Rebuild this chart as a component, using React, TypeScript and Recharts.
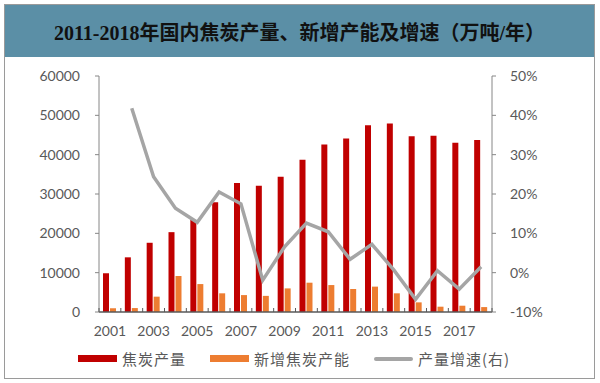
import { ComposedChart, Bar, Line, XAxis, YAxis } from 'recharts';

const years = ['2001', '2002', '2003', '2004', '2005', '2006', '2007', '2008', '2009', '2010', '2011', '2012', '2013', '2014', '2015', '2016', '2017', '2018'];
const cokeOutput = [9850, 13900, 17600, 20300, 23400, 27900, 32800, 32100, 34400, 38700, 42600, 44100, 47500, 47900, 44700, 44800, 43000, 43700];
const newCapacity = [950, 1000, 3900, 9150, 7100, 4750, 4300, 4100, 6000, 7450, 6850, 5850, 6450, 4750, 2450, 1350, 1600, 1250];
const growthRate = [null, 41.8, 24.4, 16.4, 12.8, 20.5, 17.5, -1.9, 6.6, 12.6, 10.4, 3.4, 7.2, 0.7, -6.8, 0.5, -4.2, 1.5];
const leftTicks = [0, 10000, 20000, 30000, 40000, 50000, 60000];
const rightTicks = [-10, 0, 10, 20, 30, 40, 50];

const data = years.map((year, i) => ({
  year,
  output: cokeOutput[i],
  capacity: newCapacity[i],
  rate: growthRate[i],
}));

const legendItems = [
  { label: '焦炭产量', color: '#C00000', thick: 7 },
  { label: '新增焦炭产能', color: '#ED7D31', thick: 7 },
  { label: '产量增速(右)', color: '#A5A5A5', thick: 4 },
];

const tickStyle = { fill: '#595959', fontSize: 14, fontFamily: 'Lato, sans-serif' };

// category width of the plot (393px over 18 years), used for the between-category tick marks
const halfBand = 393 / years.length / 2;

const YearTick = (props: any) => {
  const { x, y, index, payload } = props;
  const axisY = y - 14;
  return (
    <g>
      <line x1={x - halfBand} x2={x - halfBand} y1={axisY} y2={axisY - 4} stroke="#595959" />
      {index === years.length - 1 && (
        <line x1={x + halfBand} x2={x + halfBand} y1={axisY} y2={axisY - 4} stroke="#595959" />
      )}
      {index % 2 === 0 && (
        <text x={x} y={y} dy={10} textAnchor="middle" {...tickStyle}>
          {payload.value}
        </text>
      )}
    </g>
  );
};

const App = () => {
  return (
    <div style={{ position: 'absolute', left: 0, top: 0, width: 600, height: 383, background: '#fff' }}>
      <div
        style={{
          position: 'absolute',
          left: 4,
          top: 4,
          width: 589,
          height: 373,
          border: '1px solid #9a9a9a',
        }}
      />
      <div
        style={{
          position: 'absolute',
          left: 5,
          top: 5,
          width: 589,
          height: 52,
          background: '#5B8FA6',
          display: 'flex',
          alignItems: 'center',
          justifyContent: 'center',
          fontFamily: '"Liberation Serif", "Noto Sans CJK SC", serif',
          fontSize: 20,
          fontWeight: 600,
          color: '#111',
        }}
      >
        2011-2018年国内焦炭产量、新增产能及增速（万吨/年）
      </div>
      <div style={{ position: 'absolute', left: 0, top: 0 }}>
        <ComposedChart
          width={600}
          height={383}
          data={data}
          margin={{ top: 76, right: 48, left: 39, bottom: 41 }}
          barSize={6}
          barGap={1}
        >
          <XAxis
            dataKey="year"
            interval={0}
            height={30}
            tick={<YearTick />}
            tickLine={false}
            tickSize={0}
            axisLine={{ stroke: '#595959', strokeWidth: 1.5 }}
            tickMargin={14}
          />
          <YAxis
            yAxisId="left"
            width={60}
            domain={[0, 60000]}
            ticks={leftTicks}
            tick={tickStyle}
            tickSize={4}
            tickMargin={15}
            tickLine={{ stroke: '#868686' }}
            axisLine={{ stroke: '#868686' }}
          />
          <YAxis
            yAxisId="right"
            orientation="right"
            width={60}
            domain={[-10, 50]}
            ticks={rightTicks}
            tickFormatter={(v: number) => `${v}%`}
            tick={{ ...tickStyle, textAnchor: 'start' }}
            tickSize={4}
            tickMargin={14}
            tickLine={{ stroke: '#868686' }}
            axisLine={{ stroke: '#868686' }}
          />
          <Bar yAxisId="left" dataKey="output" fill="#C00000" isAnimationActive={false} />
          <Bar yAxisId="left" dataKey="capacity" fill="#ED7D31" isAnimationActive={false} />
          <Line
            yAxisId="right"
            type="linear"
            dataKey="rate"
            stroke="#A5A5A5"
            strokeWidth={3.5}
            dot={false}
            isAnimationActive={false}
          />
        </ComposedChart>
      </div>
      <div
        style={{
          position: 'absolute',
          left: 78,
          top: 348,
          display: 'flex',
          alignItems: 'center',
          fontFamily: '"Noto Sans CJK SC", sans-serif',
          fontSize: 15,
          color: '#595959',
        }}
      >
        {legendItems.map((item) => (
          <div key={item.label} style={{ display: 'flex', alignItems: 'center', marginRight: 24 }}>
            <div style={{ width: 39, height: item.thick, background: item.color, marginRight: 5, borderRadius: item.thick === 4 ? 2 : 0 }} />
            <span style={{ letterSpacing: 1 }}>{item.label}</span>
          </div>
        ))}
      </div>
    </div>
  );
};

export default App;
